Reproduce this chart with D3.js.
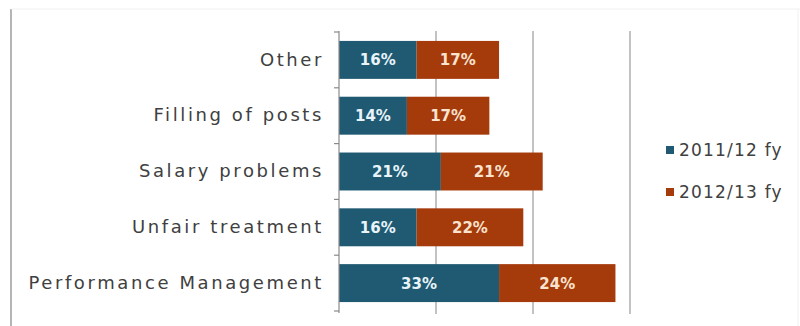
<!DOCTYPE html>
<html>
<head>
<meta charset="utf-8">
<script src="https://cdn.jsdelivr.net/npm/d3@7"></script>
<style>
  body { margin: 0; background: #fff; }
  svg { display: block; font-family: 'DejaVu Sans', sans-serif; }
</style>
</head>
<body>
<svg id="chart" width="800" height="326"></svg>
<script>
const categories = ['Other', 'Filling of posts', 'Salary problems', 'Unfair treatment', 'Performance Management']
const fy1112 = [16, 14, 21, 16, 33]
const fy1213 = [17, 17, 21, 22, 24]
const seriesNames = ['2011/12 fy', '2012/13 fy']
const xTicks = [0, 20, 40, 60]

const colors = ['#1f5a72', '#a53a0b']
const textColors = ['#e8f4fa', '#fbe3cf']

const svg = d3.select('#chart')

// frame
svg.append('line')
  .attr('x1', 11).attr('x2', 11).attr('y1', 9).attr('y2', 326)
  .attr('stroke', '#b5b5b5').attr('stroke-width', 2)
svg.append('line')
  .attr('x1', 11).attr('x2', 800).attr('y1', 9).attr('y2', 9)
  .attr('stroke', '#f0f0f0').attr('stroke-width', 1)
svg.append('line')
  .attr('x1', 798).attr('x2', 798).attr('y1', 9).attr('y2', 326)
  .attr('stroke', '#f0f0f0').attr('stroke-width', 1)

const x = d3.scaleLinear().domain([0, 60]).range([339, 630])
const y = d3.scaleBand().domain(categories).range([32, 311]).paddingInner(0.32).paddingOuter(0.16)

// gridlines
svg.append('g')
  .selectAll('line')
  .data(xTicks.slice(1))
  .join('line')
  .attr('x1', d => x(d)).attr('x2', d => x(d))
  .attr('y1', 31).attr('y2', 314)
  .attr('stroke', '#9a9a9a').attr('stroke-width', 1.2)

const rows = categories.map((c, i) => ({ cat: c, vals: [fy1112[i], fy1213[i]] }))

const segs = []
rows.forEach(r => {
  let acc = 0
  r.vals.forEach((v, s) => {
    segs.push({ cat: r.cat, s, v, x0: acc, x1: acc + v })
    acc += v
  })
})

svg.append('g')
  .selectAll('rect')
  .data(segs)
  .join('rect')
  .attr('x', d => x(d.x0))
  .attr('y', d => y(d.cat))
  .attr('width', d => x(d.x1) - x(d.x0))
  .attr('height', y.bandwidth())
  .attr('fill', d => colors[d.s])

svg.append('g')
  .selectAll('text')
  .data(segs)
  .join('text')
  .attr('x', d => (x(d.x0) + x(d.x1)) / 2)
  .attr('y', d => y(d.cat) + y.bandwidth() / 2)
  .attr('dy', '0.36em')
  .attr('text-anchor', 'middle')
  .attr('font-size', 15)
  .attr('font-weight', 'bold')
  .attr('fill', d => textColors[d.s])
  .text(d => d.v + '%')

// category axis
const yAxis = d3.axisLeft(y).tickSize(0).tickPadding(15)
const ax = svg.append('g')
  .attr('transform', `translate(${x(0)},0)`)
  .call(yAxis)
ax.select('.domain').remove()
ax.selectAll('text')
  .attr('font-size', 18)
  .attr('fill', '#404040')
  .attr('letter-spacing', 2.6)
  .style('font-family', "'DejaVu Sans', sans-serif")

// axis line and tick marks between categories
svg.append('line')
  .attr('x1', x(0)).attr('x2', x(0)).attr('y1', 31).attr('y2', 313)
  .attr('stroke', '#8a8a8a').attr('stroke-width', 1.2)
svg.append('g')
  .selectAll('line')
  .data(d3.range(categories.length + 1))
  .join('line')
  .attr('x1', x(0) - 5).attr('x2', x(0))
  .attr('y1', i => 32 + i * (279 / categories.length))
  .attr('y2', i => 32 + i * (279 / categories.length))
  .attr('stroke', '#8a8a8a').attr('stroke-width', 1.2)

// legend
const legend = svg.append('g')
  .selectAll('g')
  .data(seriesNames)
  .join('g')
  .attr('transform', (d, i) => `translate(666, ${150 + i * 42})`)
legend.append('rect')
  .attr('x', 0).attr('y', -4).attr('width', 8).attr('height', 8)
  .attr('fill', (d, i) => colors[i])
legend.append('text')
  .attr('x', 13).attr('y', 0).attr('dy', '0.36em')
  .attr('font-size', 17)
  .attr('fill', '#404040')
  .attr('letter-spacing', 1.2)
  .text(d => d)
</script>
</body>
</html>
